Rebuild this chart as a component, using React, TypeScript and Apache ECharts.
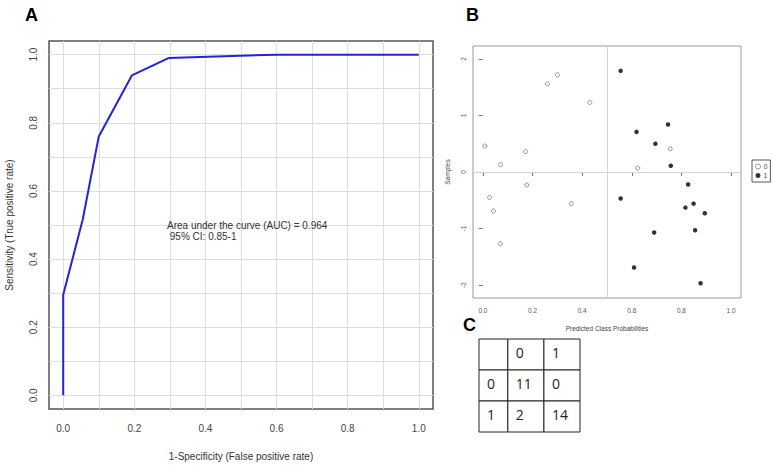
import React, { useEffect, useRef } from "react";
import * as echarts from "echarts";

// ROC curve (panel A)
const rocFpr = [0, 0, 0.055, 0.1, 0.193, 0.296, 0.6, 1.0];
const rocTpr = [0, 0.295, 0.517, 0.76, 0.939, 0.99, 1.0, 1.0];
const rocTicks = [0, 0.2, 0.4, 0.6, 0.8, 1.0];
const rocGrid = [0, 0.1, 0.2, 0.3, 0.4, 0.5, 0.6, 0.7, 0.8, 0.9, 1.0];
const aucText = "Area under the curve (AUC) = 0.964";
const ciText = " 95% CI: 0.85-1";

// Scatter (panel B)
const class0Prob = [0.008, 0.071, 0.172, 0.26, 0.3, 0.431, 0.177, 0.027, 0.042, 0.356, 0.07, 0.624, 0.755];
const class0Sample = [0.46, 0.13, 0.36, 1.56, 1.72, 1.23, -0.23, -0.45, -0.69, -0.56, -1.27, 0.07, 0.41];
const class1Prob = [0.555, 0.746, 0.619, 0.695, 0.757, 0.827, 0.555, 0.849, 0.816, 0.894, 0.69, 0.855, 0.609, 0.877];
const class1Sample = [1.79, 0.84, 0.71, 0.5, 0.11, -0.22, -0.47, -0.56, -0.63, -0.73, -1.07, -1.03, -1.69, -1.97];
const probTicks = [0, 0.2, 0.4, 0.6, 0.8, 1.0];
const sampleTicks = [-2, -1, 0, 1, 2];

// Confusion matrix (panel C)
const tableHeader = ["", "0", "1"];
const tableRows = [
  ["0", "11", "0"],
  ["1", "2", "14"],
];

const FONT = '"Liberation Sans", Arial, sans-serif';

export default function App() {
  const ref = useRef<HTMLDivElement>(null);
  useEffect(() => {
    if (!ref.current) return;
    const chart = echarts.init(ref.current, null, { renderer: "svg" });

    const rocData = rocFpr.map((x, i) => [x, rocTpr[i]]);
    const c0 = class0Prob.map((x, i) => [x, class0Sample[i]]);
    const c1 = class1Prob.map((x, i) => [x, class1Sample[i]]);

    const allRows = [tableHeader, ...tableRows];
    const cellData: number[][] = [];
    const cellText: string[] = [];
    allRows.forEach((row, r) =>
      row.forEach((t, c) => {
        cellData.push([c, r]);
        cellText.push(t);
      })
    );
    const colStart = [0, 0.8, 1.8];
    const colSpan = [0.8, 1, 1];

    const option: any = {
      animation: false,
      backgroundColor: "#fff",
      textStyle: { fontFamily: FONT },
      grid: [
        { left: 49, top: 41, width: 384, height: 372, show: true, borderColor: "#555", borderWidth: 1.5, backgroundColor: "transparent" },
        { left: 473, top: 46, width: 268, height: 252, show: true, borderColor: "#999", borderWidth: 1, backgroundColor: "transparent" },
        { left: 479, top: 339, width: 101, height: 93 },
      ],
      xAxis: [
        {
          gridIndex: 0, type: "value", min: -0.04, max: 1.04,
          axisLine: { show: false }, splitLine: { show: false },
          axisTick: { show: false },
          axisLabel: { customValues: rocTicks, formatter: (v: number) => v.toFixed(1), fontSize: 10, color: "#444", margin: 14, fontFamily: FONT },
          name: "1-Specificity (False positive rate)", nameLocation: "middle", nameGap: 42,
          nameTextStyle: { fontSize: 10, color: "#333", fontFamily: FONT },
        },
        {
          gridIndex: 1, type: "value", min: -0.04, max: 1.04,
          axisLine: { show: false }, splitLine: { show: false },
          axisTick: { show: true, customValues: probTicks, inside: false, length: 4, lineStyle: { color: "#777" } },
          axisLabel: { customValues: probTicks, formatter: (v: number) => v.toFixed(1), fontSize: 6.5, color: "#555", margin: 9, fontFamily: FONT },
          name: "Predicted Class Probabilities", nameLocation: "middle", nameGap: 27,
          nameTextStyle: { fontSize: 6.5, color: "#444", fontFamily: FONT },
        },
        { gridIndex: 2, type: "value", min: 0, max: 2.8, show: false },
      ],
      yAxis: [
        {
          gridIndex: 0, type: "value", min: -0.04, max: 1.04,
          axisLine: { show: false }, splitLine: { show: false },
          axisTick: { show: false },
          axisLabel: { customValues: rocTicks, formatter: (v: number) => v.toFixed(1), fontSize: 10, color: "#444", margin: 11, rotate: 90, fontFamily: FONT },
          name: "Sensitivity (True positive rate)", nameLocation: "middle", nameGap: 35,
          nameTextStyle: { fontSize: 10, color: "#333", fontFamily: FONT },
        },
        {
          gridIndex: 1, type: "value", min: -2.23, max: 2.23,
          axisLine: { show: false }, splitLine: { show: false },
          axisTick: { show: true, customValues: sampleTicks, inside: false, length: 4, lineStyle: { color: "#777" } },
          axisLabel: { customValues: sampleTicks, formatter: (v: number) => String(v), fontSize: 6.5, color: "#555", margin: 6, rotate: 90, fontFamily: FONT },
          name: "Samples", nameLocation: "middle", nameGap: 22,
          nameTextStyle: { fontSize: 6.5, color: "#444", fontFamily: FONT },
        },
        { gridIndex: 2, type: "value", min: 0, max: 3, inverse: true, show: false },
      ],
      legend: {
        data: [
          { name: "0", icon: "circle", itemStyle: { color: "#fff", borderColor: "#777", borderWidth: 1 } },
          { name: "1", icon: "circle", itemStyle: { color: "#000", borderWidth: 0 } },
        ],
        orient: "vertical",
        left: 752, top: 160,
        itemWidth: 5, itemHeight: 5, itemGap: 2,
        padding: [3, 3, 3, 3],
        borderColor: "#555", borderWidth: 1,
        textStyle: { fontSize: 7, color: "#444", fontFamily: FONT, padding: [0, 0, 0, -2] },
      },
      series: [
        {
          type: "line", xAxisIndex: 0, yAxisIndex: 0, data: rocData,
          showSymbol: false, symbol: "none",
          lineStyle: { color: "#2323d8", width: 2 },
          z: 5,
          markLine: {
            silent: true, symbol: ["none", "none"], label: { show: false },
            lineStyle: { color: "#dedede", type: "solid", width: 1 },
            data: [...rocGrid.map((v) => ({ xAxis: v })), ...rocGrid.map((v) => ({ yAxis: v }))],
            z: 1,
          },
        },
        {
          name: "0", type: "scatter", xAxisIndex: 1, yAxisIndex: 1, data: c0,
          symbol: "circle", symbolSize: 4,
          itemStyle: { color: "#fff", borderColor: "#777", borderWidth: 1 },
          z: 5,
          markLine: {
            silent: true, symbol: ["none", "none"], label: { show: false },
            lineStyle: { color: "#d4d4d4", type: "solid", width: 1 },
            data: [{ xAxis: 0.5 }, { yAxis: 0 }],
          },
        },
        {
          name: "1", type: "scatter", xAxisIndex: 1, yAxisIndex: 1, data: c1,
          symbol: "circle", symbolSize: 4.5,
          itemStyle: { color: "#000" },
          z: 5,
        },
        {
          type: "custom", xAxisIndex: 2, yAxisIndex: 2, data: cellData,
          silent: true,
          renderItem: (params: any, api: any) => {
            const c = api.value(0);
            const r = api.value(1);
            const p0 = api.coord([colStart[c], r]);
            const p1 = api.coord([colStart[c] + colSpan[c], r + 1]);
            return {
              type: "group",
              children: [
                {
                  type: "rect",
                  shape: { x: p0[0], y: p0[1], width: p1[0] - p0[0], height: p1[1] - p0[1] },
                  style: { fill: "#fff", stroke: "#222", lineWidth: 1 },
                },
                {
                  type: "text",
                  x: p0[0] + 8,
                  y: (p0[1] + p1[1]) / 2 - 2,
                  style: {
                    text: cellText[params.dataIndex],
                    fill: "#222",
                    font: '14px "Open Sans", "Noto Sans", sans-serif',
                    verticalAlign: "middle",
                    align: "left",
                  },
                },
              ],
            };
          },
        },
      ],
      graphic: [
        { type: "text", left: 25, top: 6, style: { text: "A", font: `bold 18px ${FONT}`, fill: "#000" } },
        { type: "text", left: 466, top: 6, style: { text: "B", font: `bold 18px ${FONT}`, fill: "#000" } },
        { type: "text", left: 463, top: 316, style: { text: "C", font: `bold 18px ${FONT}`, fill: "#000" } },
        {
          type: "text", left: 167, top: 220, z: 10,
          style: { text: aucText + "\n" + ciText, font: `10px ${FONT}`, fill: "#333", lineHeight: 11 },
        },
      ],
    };
    chart.setOption(option);
    return () => chart.dispose();
  }, []);
  return (
    <div
      ref={ref}
      style={{ position: "fixed", left: 0, top: 0, width: 774, height: 466, background: "#fff" }}
    />
  );
}
